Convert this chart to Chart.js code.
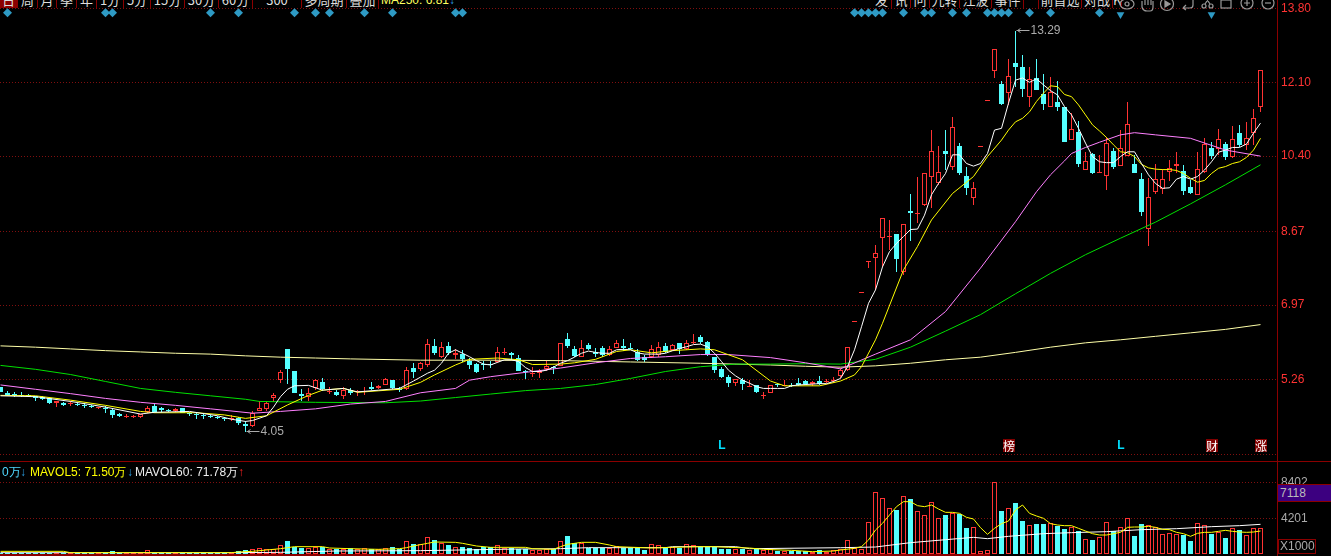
<!DOCTYPE html>
<html>
<head>
<meta charset="utf-8">
<title>K线</title>
<script src="https://cdn.jsdelivr.net/npm/chart.js@4"></script>
<style>
    html, body { margin: 0; padding: 0; background: #000; width: 1331px; height: 556px; overflow: hidden; }
    #page { position: relative; width: 1331px; height: 556px; font-family: "Liberation Sans", Arial, sans-serif; font-size: 12px; }
    #price-box { position: absolute; left: 0; top: 0; width: 1331px; height: 461px; }
    #volume-box { position: absolute; left: 0; top: 461px; width: 1331px; height: 95px; }
    #toolbar { position: absolute; left: 0; top: 0; width: 1277px; height: 8px; overflow: hidden; background: #000; }
    .tab { position: absolute; top: 0; height: 8px; box-sizing: border-box; border-right: 1px solid #8b0000; color: #ddd; text-align: center; font: 13px/14px "Noto Sans CJK SC", sans-serif; overflow: hidden; white-space: nowrap; }
    .tab span { position: relative; top: -7px; }
    .divider { position: absolute; background: #8b0000; }
    #vol-legend { position: absolute; left: 2px; top: 464px; white-space: nowrap; font-size: 12px; line-height: 16px; }
    #vol-legend span { position: absolute; top: 0; }
    #cur-vol { position: absolute; left: 1278px; top: 484px; width: 53px; height: 18px; box-sizing: border-box; background: #3c0080; border-top: 1px solid #8b0000; border-bottom: 1px solid #8b0000; color: #bbb; padding-left: 2px; line-height: 16px; }
    #vol-unit { position: absolute; left: 1278px; top: 539px; width: 38px; height: 15px; box-sizing: border-box; border: 1px solid #8b0000; color: #aaa; padding-left: 1px; line-height: 13px; }
    #icons { position: absolute; left: 1117px; top: -7px; }
</style>
</head>
<body>
<div id="page">
    <div id="price-box"><canvas id="price-chart"></canvas></div>
    <div id="volume-box"><canvas id="volume-chart"></canvas></div>
    <div id="toolbar"></div>
    <svg id="icons" width="160" height="20" fill="none" stroke="#999" stroke-width="1.2">
        <ellipse cx="10" cy="11" rx="7" ry="5"/><circle cx="10" cy="11" r="2"/>
        <path d="M25 8v6q1 4 5 4h3q3 0 3-4v-6M28 7v5M31 7v5M34 7v5"/>
        <circle cx="50" cy="11" r="6.5"/><path d="M48 8l5 3-5 3z" fill="#999"/>
        <path d="M66 13h7q3 0 3-3v-5M66 13l3-3M66 13l3 2" transform="translate(0 2)"/>
        <circle cx="87" cy="13" r="2"/><circle cx="94" cy="13" r="2"/><path d="M88 11l6-9M93 11l-6-9"/>
        <rect x="104" y="7" width="10" height="8"/>
        <circle cx="130" cy="10" r="6"/><path d="M127 10h6M130 7v6"/>
        <circle cx="151" cy="10" r="6"/><path d="M148 10h6"/>
    </svg>
    <div class="divider" style="left:1277px;top:0;width:1px;height:556px"></div>
    <div class="divider" style="left:0;top:461px;width:1331px;height:1px"></div>
    <div class="divider" style="left:0;top:554px;width:990px;height:2px"></div>
    <div id="vol-legend">
        <span style="left:0;color:#4fd8ff">0万</span><span style="left:18px;color:#2a9ce0">↓</span>
        <span style="left:28px;color:#ffff00">MAVOL5: 71.50万</span><span style="left:125px;color:#2a9ce0">↓</span>
        <span style="left:133px;color:#eee">MAVOL60: 71.78万</span><span style="left:236px;color:#ff2020">↑</span>
    </div>
    <div id="cur-vol">7118</div>
    <div id="vol-unit">X1000</div>
</div>

<script>
// daily candles, left to right (one every 7px)
const opens = [
    5.08,4.94,4.92,4.91,4.90,4.88,4.85,4.82,4.72,4.72,
    4.69,4.70,4.67,4.64,4.59,4.60,4.55,4.45,4.39,4.39,
    4.40,4.51,4.64,4.61,4.55,4.53,4.59,4.48,4.47,4.44,
    4.42,4.40,4.38,4.36,4.36,4.23,4.19,4.54,4.58,4.82,
    5.24,5.96,5.45,4.92,4.85,5.05,5.20,4.97,4.97,4.88,
    5.01,4.97,4.96,5.08,5.05,5.14,5.24,5.04,5.03,5.52,
    5.50,5.58,6.03,5.78,6.03,5.81,5.85,5.69,5.61,5.61,
    5.61,5.65,5.87,5.87,5.74,5.45,5.38,5.40,5.50,5.54,
    5.57,6.18,5.96,5.78,6.06,5.90,5.97,5.82,5.99,6.03,
    5.98,5.90,5.78,5.77,5.82,6.03,5.94,6.09,5.95,6.11,
    6.24,6.12,5.78,5.49,5.32,5.18,5.25,5.09,5.13,4.89,
    4.95,5.15,5.12,5.14,5.18,5.22,5.15,5.21,5.20,5.21,
    5.34,5.47,6.58,7.25,7.96,8.05,8.51,8.54,8.61,7.74,
    9.13,9.07,9.27,9.93,9.78,10.52,10.16,10.63,9.94,9.44,
    10.62,11.68,12.35,12.06,11.85,12.54,12.45,11.76,12.19,11.84,
    11.54,11.65,11.53,10.78,10.96,10.09,10.45,10.02,9.94,10.52,
    10.18,10.40,10.22,9.87,8.73,9.57,9.64,10.04,10.18,10.06,
    9.69,9.51,10.03,10.59,10.57,10.68,10.39,10.93,10.65,10.94,11.54
];
const closes = [
    4.97,4.89,4.88,4.88,4.88,4.83,4.81,4.72,4.75,4.67,
    4.72,4.66,4.64,4.62,4.62,4.58,4.44,4.42,4.42,4.41,
    4.45,4.60,4.51,4.55,4.52,4.57,4.48,4.45,4.44,4.42,
    4.39,4.38,4.35,4.37,4.26,4.19,4.48,4.59,4.72,4.91,
    5.42,5.50,4.95,4.88,4.94,5.24,5.03,4.98,4.90,5.01,
    4.94,4.98,5.00,5.04,5.11,5.26,5.05,5.02,5.47,5.43,
    5.63,6.07,5.86,6.00,5.86,5.87,5.72,5.59,5.43,5.60,
    5.58,5.90,5.89,5.81,5.45,5.42,5.41,5.46,5.57,5.52,
    6.09,6.03,5.80,5.97,5.96,5.84,5.82,5.95,6.09,5.99,
    5.96,5.71,5.70,5.95,6.00,5.90,6.04,5.96,6.10,6.13,
    6.12,5.84,5.47,5.31,5.17,5.26,5.15,5.11,4.97,4.91,
    5.14,5.12,5.14,5.11,5.14,5.15,5.19,5.16,5.21,5.24,
    5.47,6.00,6.60,7.26,7.98,8.16,8.97,8.55,8.04,8.83,
    9.10,9.08,10.00,10.51,10.03,10.46,11.06,10.00,9.67,9.66,
    10.63,11.70,12.86,11.59,12.24,12.46,11.95,12.18,11.93,11.61,
    11.88,11.54,10.73,11.02,10.22,10.28,10.01,10.04,10.70,10.16,
    10.58,11.13,10.01,9.11,9.45,9.87,9.87,10.12,10.21,9.60,
    9.54,10.10,10.68,10.40,10.79,10.37,10.79,10.65,10.81,11.27,12.39
];
const highs = [
    5.08,4.98,4.97,4.97,4.92,4.88,4.87,4.83,4.76,4.74,
    4.77,4.72,4.71,4.66,4.62,4.65,4.57,4.48,4.45,4.44,
    4.47,4.65,4.70,4.63,4.58,4.59,4.59,4.50,4.50,4.47,
    4.44,4.42,4.40,4.43,4.39,4.29,4.52,4.75,4.77,4.94,
    5.48,5.96,5.45,5.03,5.05,5.26,5.28,5.09,5.01,5.09,
    5.05,5.01,5.09,5.20,5.13,5.28,5.24,5.08,5.54,5.64,
    5.66,6.18,6.19,6.11,6.12,5.95,5.93,5.74,5.63,5.69,
    5.69,6.00,5.98,5.90,5.81,5.47,5.55,5.50,5.68,5.57,
    6.09,6.32,6.03,6.17,6.10,5.98,6.03,6.03,6.17,6.19,
    6.09,5.95,5.82,6.04,6.11,6.09,6.07,6.10,6.17,6.30,
    6.29,6.14,5.78,5.55,5.36,5.26,5.29,5.24,5.14,4.97,
    5.14,5.17,5.24,5.18,5.28,5.24,5.21,5.34,5.26,5.31,
    5.51,6.00,6.60,7.26,7.98,8.35,8.97,8.93,8.61,8.83,
    9.53,9.93,10.00,11.00,10.63,11.00,11.30,10.70,10.14,9.80,
    10.63,11.70,12.86,12.13,12.64,13.29,12.73,12.45,12.64,12.29,
    12.22,12.13,11.53,11.39,11.22,10.50,10.47,10.43,10.83,10.59,
    11.00,11.65,10.43,10.01,9.89,10.22,10.10,10.31,10.50,10.20,
    9.85,10.49,10.81,10.73,11.03,10.73,11.10,11.12,11.18,11.49,12.39
];
const lows = [
    4.97,4.88,4.86,4.86,4.85,4.77,4.78,4.68,4.62,4.65,
    4.65,4.65,4.61,4.60,4.58,4.49,4.38,4.40,4.38,4.37,
    4.38,4.49,4.49,4.50,4.51,4.51,4.48,4.42,4.35,4.35,
    4.37,4.34,4.29,4.31,4.20,4.05,4.17,4.53,4.52,4.73,
    5.17,5.15,4.94,4.76,4.77,5.01,4.98,4.93,4.88,4.81,
    4.90,4.88,4.89,5.01,5.03,5.12,5.03,4.97,5.01,5.29,
    5.44,5.55,5.82,5.74,5.82,5.73,5.66,5.49,5.41,5.47,
    5.53,5.63,5.82,5.71,5.44,5.26,5.31,5.28,5.46,5.38,
    5.56,5.98,5.77,5.77,5.94,5.78,5.78,5.80,5.97,5.92,
    5.94,5.69,5.67,5.75,5.77,5.86,5.92,5.84,5.94,6.07,
    6.07,5.80,5.40,5.28,5.09,5.11,5.01,5.08,4.95,4.81,
    4.94,5.08,5.11,5.09,5.11,5.13,5.11,5.14,5.17,5.18,
    5.28,5.46,6.58,7.25,7.83,7.32,7.85,8.24,7.72,7.66,
    8.45,8.85,9.24,9.20,9.74,10.08,10.07,9.97,9.51,9.28,
    10.62,11.68,12.21,11.58,11.58,12.00,11.76,11.53,11.92,11.47,
    11.53,11.45,10.73,10.77,10.16,10.08,9.98,10.02,9.62,10.10,
    10.18,10.40,10.01,9.02,8.33,9.53,9.53,9.82,10.01,9.51,
    9.53,9.51,10.01,10.33,10.43,10.31,10.35,10.60,10.54,10.66,11.42
];
// volume, in thousands
const volumes = [
    190,190,170,190,170,190,190,210,190,170,
    150,150,170,150,150,190,390,150,150,150,
    170,460,150,150,150,150,150,150,150,150,
    150,150,150,150,350,500,580,700,580,580,
    1050,1550,890,740,700,890,850,580,660,660,
    740,580,700,660,580,770,850,660,1510,1200,
    1160,1980,1670,1280,1090,850,850,770,580,850,
    850,1050,770,770,660,660,460,500,580,580,
    1510,2140,1280,1360,770,770,770,770,930,770,
    770,770,500,1160,1050,770,810,740,1160,1050,
    850,850,850,620,620,620,620,500,620,460,
    580,420,420,420,420,350,310,500,310,460,
    660,1670,770,580,3730,7230,6530,5360,5170,6770,
    6450,5010,4550,6060,4200,4590,4820,4740,3070,3150,
    390,460,8400,5050,5360,5990,3890,3380,3540,3540,
    3650,3300,2950,3230,2680,1790,1670,2020,3730,2680,
    3150,4200,2140,3540,3380,3150,2370,2490,2330,2250,
    1550,3610,3380,2370,2600,1900,3030,2840,2210,3030,3030
];

const ma5Days = [0,5,10,15,20,22,27,31,33,35,36,38,39,40,41,42,44,46,49,51,54,57,59,
    60,61,62,63,64,65,66,67,68,69,70,71,72,73,74,75,76,77,78,79,80,81,82,83,84,85,86,87,88,89,
    90,91,92,93,94,95,96,97,98,99,100,101,102,103,104,105,106,107,108,109,110,111,112,113,114,115,116,117,118,119,
    120,121,122,123,124,125,126,127,128,129,130,131,132,133,134,135,136,137,138,139,140,141,142,143,144,145,146,147,148,149,
    150,151,152,153,154,155,156,157,158,159,160,161,162,163,164,165,166,167,168,169,170,171,172,173,174,175,176,177,178,179,180];
const ma5 = [4.88,4.86,4.75,4.62,4.46,4.50,4.52,4.42,4.34,4.29,4.31,4.42,4.62,4.86,5.03,5.11,5.12,5.01,5.05,4.97,5.01,5.05,5.22,
    5.31,5.40,5.47,5.63,5.86,5.94,5.86,5.78,5.69,5.61,5.59,5.65,5.71,5.71,5.67,5.53,5.44,5.44,5.47,5.54,5.63,5.69,5.77,5.86,5.91,5.88,5.86,5.86,5.94,5.95,
    5.94,5.87,5.84,5.84,5.84,5.86,5.92,5.97,6.01,6.06,6.07,6.01,5.86,5.67,5.47,5.34,5.24,5.17,5.09,5.05,5.05,5.05,5.05,5.11,5.13,5.14,5.15,5.16,5.16,5.21,
    5.28,5.55,5.94,6.47,7.01,7.32,7.85,8.20,8.39,8.55,8.71,8.72,9.04,9.51,9.77,10.00,10.43,10.43,10.23,10.17,10.23,10.46,11.00,11.04,11.62,12.15,12.20,12.10,12.18,12.04,
    11.91,11.81,11.54,11.35,11.04,10.70,10.39,10.27,10.25,10.25,10.39,10.50,10.50,10.23,9.97,9.77,9.66,9.67,9.87,9.93,9.87,9.93,10.08,10.27,10.49,10.54,10.60,10.60,10.68,10.93,11.16];

const ma10Days = [0,5,10,15,20,22,28,32,35,38,41,44,46,49,51,57,60,62,65,67,71,74,76,80,82,85,88,90,93,96,100,102,106,110,112,117,
    120,122,123,125,126,129,131,133,136,139,141,143,144,145,146,147,148,149,150,151,152,153,154,155,156,157,158,159,
    160,161,162,163,164,165,166,167,168,169,170,171,172,173,174,175,176,177,178,179,180];
const ma10 = [4.89,4.88,4.78,4.66,4.52,4.49,4.49,4.44,4.36,4.42,4.67,4.89,5.01,5.05,4.96,5.03,5.19,5.36,5.59,5.72,5.75,5.71,5.60,5.61,5.64,5.72,5.90,5.94,5.87,5.92,5.96,5.94,5.71,5.22,5.11,5.11,
    5.22,5.36,5.55,6.17,6.55,7.78,8.32,8.93,9.54,9.93,10.39,10.77,11.00,11.19,11.27,11.42,11.66,11.85,12.02,12.00,11.82,11.77,11.58,11.35,11.12,10.98,10.83,10.66,
    10.50,10.48,10.39,10.21,10.13,10.10,10.09,10.09,10.07,10.00,9.89,9.80,9.84,10.00,10.12,10.16,10.23,10.27,10.37,10.54,10.81];

const ma20Days = [0,5,10,15,20,25,30,36,40,45,50,55,60,65,67,70,75,80,85,90,95,100,104,110,115,120,125,130,135,140,145,148,150,152,153,155,157,160,162,165,170,175,180];
const ma20 = [5.13,5.03,4.93,4.82,4.73,4.66,4.58,4.48,4.52,4.58,4.69,4.75,4.95,5.05,5.24,5.32,5.42,5.52,5.64,5.74,5.78,5.83,5.83,5.76,5.64,5.50,5.84,6.17,6.82,7.82,8.89,9.58,9.97,10.29,10.46,10.60,10.72,10.89,10.94,10.89,10.81,10.54,10.40];

const ma60Days = [0,5,10,15,20,25,30,35,37,45,55,60,65,70,75,80,85,90,95,100,105,110,115,120,125,130,135,140,145,150,155,160,165,170,175,180];
const ma60 = [5.58,5.49,5.37,5.21,5.05,4.96,4.88,4.80,4.75,4.73,4.72,4.76,4.84,4.92,5.00,5.05,5.14,5.28,5.44,5.55,5.61,5.61,5.62,5.61,5.72,6.00,6.37,6.75,7.23,7.70,8.13,8.51,8.88,9.30,9.74,10.20];

const ma250Days = [0,5,10,15,20,25,30,35,40,45,50,60,70,80,90,100,110,115,120,125,130,135,140,145,150,155,160,165,170,175,180];
const ma250 = [6.03,6.00,5.96,5.92,5.89,5.86,5.84,5.80,5.77,5.75,5.73,5.70,5.70,5.69,5.66,5.63,5.59,5.56,5.54,5.57,5.63,5.71,5.77,5.88,6.00,6.10,6.17,6.25,6.33,6.41,6.52];

const volMa5Days = [0,9,10,33,34,36,38,40,41,42,46,47,50,54,57,58,59,60,61,62,65,66,68,70,75,76,79,80,81,82,83,85,87,88,93,96,100,102,104,107,109,113,116,119,
    120,122,123,124,125,126,127,128,129,130,131,132,133,134,135,136,137,138,139,140,141,142,143,144,145,146,147,148,149,
    150,151,152,153,154,155,156,157,158,159,160,161,162,163,164,165,166,167,168,169,170,171,172,173,174,175,176,177,178,179,180];
const volMa5 = [346,346,190,190,268,346,502,657,774,891,891,735,657,580,657,774,969,1124,1280,1435,1397,1280,969,813,813,657,580,891,1163,1280,1397,1397,1085,891,735,813,891,891,813,735,580,463,307,385,
    502,696,891,1669,2836,3614,4586,5559,6143,6143,5676,5559,5753,5286,4897,4897,4781,4314,4120,3108,2330,3030,3575,3886,5170,5753,4781,4470,4197,
    3575,3419,3342,3342,3030,2719,2408,2252,2252,2408,2563,3147,3186,3186,3264,3147,2914,2875,2563,2408,2097,2447,2563,2563,2680,2797,2680,2602,2563,2602,2719];

const volMa60Days = [0,33,40,48,60,74,80,84,95,96,105,107,120,125,130,135,139,141,144,149,153,158,163,168,173,177,180];
const volMa60 = [190,190,230,385,424,618,657,774,774,891,891,657,770,852,1358,1704,1980,1824,2097,2408,2525,2641,2875,2991,3225,3342,3497];

// the blue info diamonds along the top edge and the two half-hidden ones
const diamondDays = [1,15,16,30,34,42,45,47,52,56,65,66,122,123,124,125,126,129,132,133,136,138,141,142,143,144,147,150,157];
const triangleDays = [160,173];
const diamondLevel = 13.70;
const triangleLevel = 13.66;

// event tags above the volume pane
const eventDays = [103,144,160,173,180];
const eventTexts = ['L','榜','L','财','涨'];
const eventLevel = 3.72;

// highest / lowest price marks
const highMark = { day: 145, value: 13.29, text: '13.29' };
const lowMark = { day: 35, value: 4.05, text: '4.05' };

const priceTicks = [13.80, 12.10, 10.40, 8.67, 6.97, 5.26, 3.53];
const unlabelledPriceTick = 3.53;
const volumeTicks = [8402, 4201];

// toolbar labels, both clipped by the top of the window
const leftTabs = ['日','周','月','季','年','1分','5分','15分','30分','60分','300','多周期','叠加'];
const leftTabEdges = [0,18,38,57,77,97,124,151,185,219,253,302,347,379];
const rightTabs = ['发','讯','问','九转','江波','事件','','前首选','对战','K'];
const rightTabEdges = [872,892,911,930,960,992,1024,1039,1082,1113,1122];

const RED = '#ff3333';
const CYAN = '#54ffff';
const GRID = '#800f0f';
const PIXELS_PER_DAY = 7;
const PLOT_RIGHT = 1277;
const X_MIN = -0.5 / PIXELS_PER_DAY;
const X_MAX = X_MIN + PLOT_RIGHT / PIXELS_PER_DAY;

const days = opens.map((_, i) => i);
const isUp = i => closes[i] >= opens[i];

function buildToolbar() {
    const toolbar = document.getElementById('toolbar');
    const addTabs = (labels, edges) => {
        labels.forEach((label, i) => {
            const tab = document.createElement('div');
            tab.className = 'tab';
            tab.style.left = edges[i] + 'px';
            tab.style.width = (edges[i + 1] - edges[i]) + 'px';
            if (label === '日') {
                tab.style.background = '#8b0000';
            }
            tab.innerHTML = `<span>${label}</span>`;
            toolbar.appendChild(tab);
        });
    };
    addTabs(leftTabs, leftTabEdges);
    addTabs(rightTabs, rightTabEdges);

    const ma = document.createElement('div');
    ma.className = 'tab';
    ma.style.cssText = 'left:381px;width:80px;border:0;text-align:left;color:#ffff60;font:12px/14px "Liberation Sans",sans-serif';
    ma.innerHTML = '<span>MA250: 6.81<b style="color:#2a9ce0">↓</b></span>';
    toolbar.appendChild(ma);
}

function line(xs, ys, color, order) {
    return {
        type: 'line',
        data: xs.map((x, i) => ({ x: x, y: ys[i] })),
        borderColor: color,
        borderWidth: 1,
        pointRadius: 0,
        tension: 0,
        order: order
    };
}

function xAxis() {
    return { type: 'linear', display: false, offset: false, min: X_MIN, max: X_MAX };
}

function yAxis(min, max, ticks, labelColor) {
    return {
        type: 'linear',
        position: 'right',
        min: min,
        max: max,
        afterBuildTicks: scale => { scale.ticks = ticks.map(v => ({ value: v })); },
        afterFit: scale => {
            // plot area must fill the canvas height, labels may overhang
            scale.width = 1331 - PLOT_RIGHT;
            scale.paddingTop = 0;
            scale.paddingBottom = 0;
        },
        grid: { color: GRID, lineWidth: 1, drawTicks: false },
        border: { display: false, dash: [1, 2] },
        ticks: {
            color: labelColor,
            padding: 4,
            autoSkip: false,
            maxRotation: 0,
            font: { family: '"Liberation Sans", Arial, sans-serif', size: 12 },
            callback: value => {
                if (value === unlabelledPriceTick) return '';
                return ticks[0] > 1000 ? String(value) : value.toFixed(2);
            }
        }
    };
}

// keep bar edges on whole pixels so the hollow candles stay crisp
const snapBars = {
    id: 'snapBars',
    afterDatasetsUpdate(chart) {
        chart.getSortedVisibleDatasetMetas().forEach(meta => {
            if (meta.type !== 'bar') return;
            meta.data.forEach(bar => {
                bar.y = Math.round(bar.y);
                bar.base = Math.round(bar.base);
                if (bar.y === bar.base) bar.base = bar.y + 1;
            });
        });
    }
};

// 13.29 / 4.05 labels with their arrows, and the event tags
const priceNotes = {
    id: 'priceNotes',
    afterDatasetsDraw(chart) {
        const ctx = chart.ctx;
        const x = chart.scales.x;
        const y = chart.scales.y;
        ctx.save();
        ctx.font = '12px "Liberation Sans", Arial, sans-serif';
        ctx.textBaseline = 'middle';
        ctx.textAlign = 'left';

        [highMark, lowMark].forEach(mark => {
            const px = Math.round(x.getPixelForValue(mark.day)) + 0.5;
            const py = Math.round(y.getPixelForValue(mark.value)) - 0.5;
            ctx.strokeStyle = '#aaa';
            ctx.fillStyle = '#aaa';
            ctx.beginPath();
            ctx.moveTo(px, py);
            ctx.lineTo(px + 13, py);
            ctx.moveTo(px + 4, py - 2);
            ctx.lineTo(px + 1, py);
            ctx.lineTo(px + 4, py + 2);
            ctx.stroke();
            ctx.fillText(mark.text, px + 14, py);
        });

        ctx.textAlign = 'center';
        eventDays.forEach((day, i) => {
            const px = Math.round(x.getPixelForValue(day));
            const py = Math.round(y.getPixelForValue(eventLevel));
            if (eventTexts[i] === 'L') {
                ctx.font = 'bold 12px "Liberation Sans", Arial, sans-serif';
                ctx.fillStyle = '#00e0ff';
            } else {
                ctx.fillStyle = '#800000';
                ctx.fillRect(px - 6, py - 7, 12, 13);
                ctx.font = '12px "Noto Sans CJK SC", sans-serif';
                ctx.fillStyle = '#fff';
            }
            ctx.fillText(eventTexts[i], px, py);
        });
        ctx.restore();
    }
};

function drawPriceChart() {
    const wicks = days.map(i => ({ x: i, y: [lows[i], highs[i]] }));
    const bodies = days.map(i => ({ x: i, y: [opens[i], closes[i]] }));
    const candleColor = ctx => isUp(ctx.dataIndex) ? RED : CYAN;

    new Chart(document.getElementById('price-chart'), {
        data: {
            datasets: [
                { type: 'bar', data: wicks, grouped: false, maxBarThickness: 1, inflateAmount: 0, backgroundColor: candleColor, order: 9 },
                {
                    type: 'bar', data: bodies, grouped: false, maxBarThickness: 5, inflateAmount: 0,
                    backgroundColor: ctx => isUp(ctx.dataIndex) ? '#000' : CYAN,
                    borderColor: candleColor, borderWidth: 1, borderSkipped: false, order: 8
                },
                line(ma250Days, ma250, '#ffffa8', 5),
                line(ma60Days, ma60, '#00e000', 4),
                line(ma20Days, ma20, '#ff80ff', 3),
                line(ma10Days, ma10, '#ffff00', 2),
                line(ma5Days, ma5, '#ffffff', 1),
                {
                    type: 'line', showLine: false, data: diamondDays.map(d => ({ x: d, y: diamondLevel })),
                    pointStyle: 'rectRot', pointRadius: 4.5, pointBackgroundColor: '#2e9ac4', pointBorderWidth: 0, order: 0
                },
                {
                    type: 'line', showLine: false, data: triangleDays.map(d => ({ x: d, y: triangleLevel })),
                    pointStyle: 'triangle', pointRotation: 180, pointRadius: 4.5, pointBackgroundColor: '#2e9ac4', pointBorderWidth: 0, order: 0
                }
            ]
        },
        options: {
            responsive: false,
            animation: false,
            layout: { padding: 0, autoPadding: false },
            events: [],
            plugins: { legend: { display: false }, tooltip: { enabled: false } },
            scales: { x: xAxis(), y: yAxis(3.3785, 13.9958, priceTicks, '#ff3333') }
        },
        plugins: [snapBars, priceNotes]
    });
}

function drawVolumeChart() {
    const bars = days.map(i => ({ x: i, y: volumes[i] }));

    new Chart(document.getElementById('volume-chart'), {
        data: {
            datasets: [
                {
                    type: 'bar', data: bars, grouped: false, maxBarThickness: 5, inflateAmount: 0,
                    backgroundColor: ctx => isUp(ctx.dataIndex) ? '#000' : CYAN,
                    borderColor: ctx => isUp(ctx.dataIndex) ? RED : CYAN,
                    borderWidth: 1, borderSkipped: false, order: 3
                },
                line(volMa60Days, volMa60, '#ffffff', 2),
                line(volMa5Days, volMa5, '#ffff00', 1)
            ]
        },
        options: {
            responsive: false,
            animation: false,
            layout: { padding: 0, autoPadding: false },
            events: [],
            plugins: { legend: { display: false }, tooltip: { enabled: false } },
            scales: { x: xAxis(), y: yAxis(-198, 10888, volumeTicks, '#aaaaaa') }
        },
        plugins: [snapBars]
    });
}

document.addEventListener('DOMContentLoaded', () => {
    const priceCanvas = document.getElementById('price-chart');
    priceCanvas.width = 1331;
    priceCanvas.height = 461;
    const volumeCanvas = document.getElementById('volume-chart');
    volumeCanvas.width = 1331;
    volumeCanvas.height = 95;

    buildToolbar();
    drawPriceChart();
    drawVolumeChart();
});
</script>
</body>
</html>
